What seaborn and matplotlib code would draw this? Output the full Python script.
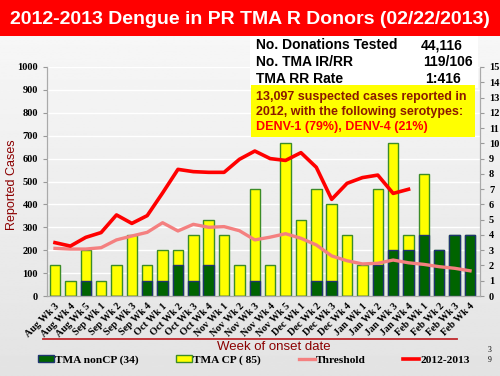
import numpy as np
import pandas as pd
import seaborn as sns
import matplotlib.pyplot as plt
from matplotlib.patches import Rectangle, Patch
from matplotlib.lines import Line2D

### Data
weeks = ['Aug Wk 3', 'Aug Wk 4', 'Aug Wk 5',
         'Sep Wk 1', 'Sep Wk 2', 'Sep Wk 3', 'Sep Wk 4',
         'Oct Wk 1', 'Oct Wk 2', 'Oct Wk 3', 'Oct Wk 4',
         'Nov Wk 1', 'Nov Wk 2', 'Nov Wk 3', 'Nov Wk 4', 'Nov Wk 5',
         'Dec Wk 1', 'Dec Wk 2', 'Dec Wk 3', 'Dec Wk 4',
         'Jan Wk 1', 'Jan Wk 2', 'Jan Wk 3', 'Jan Wk 4',
         'Feb Wk 1', 'Feb Wk 2', 'Feb Wk 3', 'Feb Wk 4']
tma_noncp = [0, 0, 1, 0, 0, 0, 1, 1, 2, 1, 2, 0, 0, 1, 0, 0,
             0, 1, 1, 0, 0, 2, 3, 3, 4, 3, 4, 4]
tma_cp = [2, 1, 2, 1, 2, 4, 1, 2, 1, 3, 3, 4, 2, 6, 2, 10,
          5, 6, 5, 4, 2, 5, 7, 1, 4, 0, 0, 0]
cases_2012_2013 = [233, 218, 256, 277, 354, 317, 351, 450, 553, 543, 540, 540,
                   597, 633, 600, 592, 626, 562, 422, 492, 517, 528, 448, 466,
                   np.nan, np.nan, np.nan, np.nan]
threshold = [208, 205, 205, 211, 245, 262, 278, 320, 284, 313, 300, 303,
             285, 245, 257, 272, 252, 223, 175, 154, 140, 143, 157, 145,
             138, 128, 121, 110]

df = pd.DataFrame({'week': weeks, 'noncp': tma_noncp, 'cp': tma_cp,
                   'cases': cases_2012_2013, 'threshold': threshold})
df['total'] = df['noncp'] + df['cp']
df['pos'] = np.arange(len(df))

serif = 'Liberation Serif'
sans = 'Liberation Sans'
dark_red = '#8b0000'

fig = plt.figure(figsize=(5, 3.76), dpi=100)
fig.patch.set_facecolor('#e6e6e6')

### slide background gradient
bg = fig.add_axes([0, 0, 1, 1], zorder=-10)
grad = np.linspace(0.975, 0.89, 256).reshape(-1, 1)
bg.imshow(grad, aspect='auto', cmap='gray', vmin=0, vmax=1, extent=[0, 1, 0, 1])
bg.axis('off')

### title bar
fig.patches.append(Rectangle((0, 1 - 36 / 376), 1, 36 / 376, transform=fig.transFigure,
                             facecolor='#ff0000', edgecolor='none', zorder=1))
fig.text(0.5, 1 - 19 / 376, '2012-2013 Dengue in PR TMA R Donors (02/22/2013)',
         color='white', fontsize=14, fontweight='bold', family=sans,
         ha='center', va='center', zorder=2)

### bars on the primary axis (right scale 0-15)
ax = fig.add_axes([47 / 500, 1 - 296 / 376, 433 / 500, 229 / 376])
ax.patch.set_visible(False)
sns.barplot(data=df, x='week', y='total', color='#ffff00', edgecolor='#3c8c28',
            linewidth=1, width=0.68, saturation=1, ax=ax)
sns.barplot(data=df, x='week', y='noncp', color='#006400', edgecolor='#1f3470',
            linewidth=1, width=0.68, saturation=1, ax=ax)
ax.set_ylim(0, 15)
ax.set_yticks(range(0, 16))
ax.set_xlim(-0.52, 27.65)
for i in range(1, 11):
    ax.axhline(i * 1.5, color='white', lw=1, zorder=0)
ax.set_xlabel('')
ax.set_ylabel('')
ax.set_xticks(df['pos'])
ax.set_xticklabels(weeks, rotation=45, ha='right', rotation_mode='anchor',
                   family=serif, fontweight='bold', fontsize=7.3)
ax.tick_params(axis='x', length=0, pad=4)

### lines on the twin axis (left scale 0-1000)
ax2 = ax.twinx()
sns.lineplot(data=df, x='pos', y='threshold', color='#f48080', lw=2.4, ax=ax2)
sns.lineplot(data=df, x='pos', y='cases', color='#ff0000', lw=2.6, ax=ax2)
ax2.set_ylim(0, 1000)
ax2.set_yticks(range(0, 1001, 100))
ax2.yaxis.tick_left()
ax2.set_ylabel('')
ax.yaxis.tick_right()

for a in (ax, ax2):
    a.tick_params(axis='y', labelsize=7.5, length=3, color='#999999')
    for t in a.get_yticklabels():
        t.set_family(serif)
        t.set_fontweight('bold')
    a.spines['top'].set_visible(False)
    for s in ('left', 'right', 'bottom'):
        a.spines[s].set_color('#aaaaaa')

fig.text(12 / 500, 1 - 185 / 376, 'Reported Cases', rotation=90, color=dark_red,
         fontsize=9, family=sans, ha='center', va='center')
fig.text(274 / 500, 1 - 347 / 376, 'Week of onset date', color=dark_red,
         fontsize=9.5, family=sans, ha='center', va='center')
fig.lines.append(Line2D([43 / 500, 457 / 500], [1 - 339 / 376, 1 - 339 / 376],
                        transform=fig.transFigure, color='#c0282d', lw=1.3))

### info boxes
fig.patches.append(Rectangle((250 / 500, 1 - 88 / 376), 228 / 500, 52 / 376,
                             transform=fig.transFigure, facecolor='white',
                             edgecolor='none', zorder=3))
rows = [('No. Donations Tested', '44,116', 442, 45),
        ('No. TMA IR/RR', '119/106', 448, 62),
        ('TMA RR Rate', '1:416', 443, 79)]
for label, val, xv, y in rows:
    fig.text(256 / 500, 1 - y / 376, label, fontsize=10, fontweight='bold',
             family=sans, va='center', zorder=4)
    fig.text(xv / 500, 1 - y / 376, val, fontsize=10, fontweight='bold',
             family=sans, va='center', ha='center', zorder=4)

fig.patches.append(Rectangle((251 / 500, 1 - 137 / 376), 224 / 500, 52 / 376,
                             transform=fig.transFigure, facecolor='#ffff00',
                             edgecolor='none', zorder=5))
fig.text(256 / 500, 1 - 97 / 376, '13,097 suspected cases reported in',
         color='#8b1a00', fontsize=9, fontweight='bold', family=sans, va='center', zorder=6)
fig.text(256 / 500, 1 - 112 / 376, '2012, with the following serotypes:',
         color='#8b1a00', fontsize=9, fontweight='bold', family=sans, va='center', zorder=6)
fig.text(256 / 500, 1 - 127 / 376, 'DENV-1 (79%), DENV-4 (21%)',
         color='#ff0000', fontsize=9, fontweight='bold', family=sans, va='center', zorder=6)

### legend
handles = [Patch(facecolor='#006400', edgecolor='#1f3470'),
           Patch(facecolor='#ffff00', edgecolor='#3c8c28'),
           Line2D([], [], color='#f48080', lw=2.4),
           Line2D([], [], color='#ff0000', lw=2.6)]
labels = ['TMA nonCP (34)', 'TMA CP ( 85)', 'Threshold', '2012-2013']
fig.legend(handles, labels, ncol=4, loc='center', bbox_to_anchor=(254 / 500, 1 - 360 / 376),
           frameon=False, handlelength=1.4, handleheight=0.6, handletextpad=0.1,
           columnspacing=3.3, prop={'family': serif, 'weight': 'bold', 'size': 8.2})

fig.text(490 / 500, 1 - 350 / 376, '3', fontsize=5.5, family=serif, ha='center', va='center')
fig.text(490 / 500, 1 - 360 / 376, '9', fontsize=5.5, family=serif, ha='center', va='center')

fig.savefig('out.png', dpi=100)
